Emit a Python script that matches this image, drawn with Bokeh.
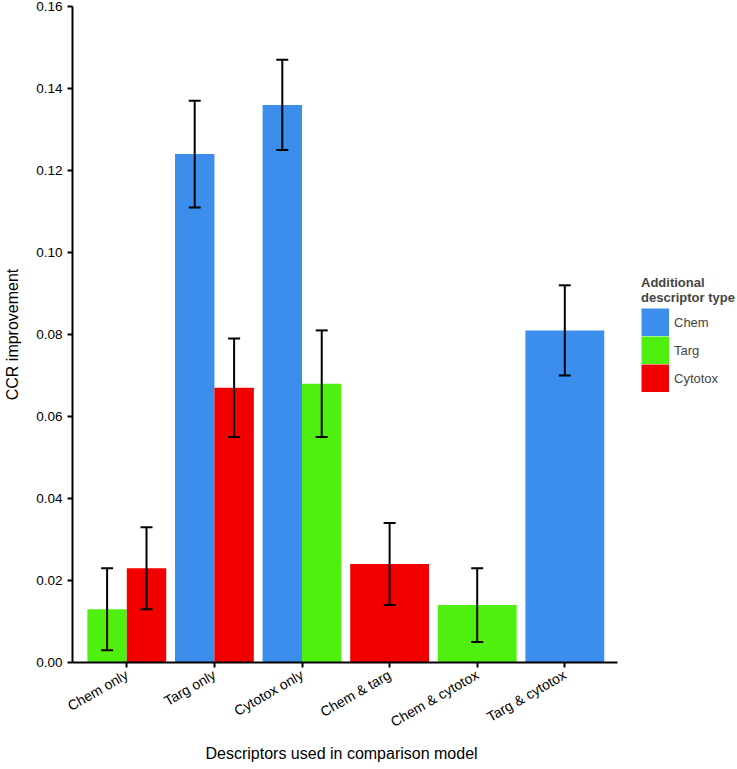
import math
from bokeh.plotting import figure
from bokeh.models import (ColumnDataSource, Legend, LegendItem, Whisker, TeeHead,
                          FixedTicker, Range1d, PrintfTickFormatter, Title)
from bokeh.embed import file_html
from bokeh.resources import INLINE

categories = ["Chem only", "Targ only", "Cytotox only", "Chem & targ", "Chem & cytotox", "Targ & cytotox"]
types = ["Chem", "Targ", "Cytotox"]
chem = [None, 0.124, 0.136, None, None, 0.081]
targ = [0.013, None, 0.068, None, 0.014, None]
cytotox = [0.023, 0.067, None, 0.024, None, None]
chem_err = [None, 0.013, 0.011, None, None, 0.011]
targ_err = [0.010, None, 0.013, None, 0.009, None]
cytotox_err = [0.010, 0.012, None, 0.010, None, None]
y_ticks = [0.00, 0.02, 0.04, 0.06, 0.08, 0.10, 0.12, 0.14, 0.16]
x_title = "Descriptors used in comparison model"
y_title = "CCR improvement"
legend_title = "Additional\ndescriptor type"

colors = {"Chem": "#3B8EEB", "Targ": "#4FEF10", "Cytotox": "#F20000"}
series = {"Chem": (chem, chem_err), "Targ": (targ, targ_err), "Cytotox": (cytotox, cytotox_err)}

FONT = "Liberation Sans"
X0, X1 = -0.62, 5.6          # extent of the x axis line
W, H = 735, 767
LEFT = 72
PX_PER_CAT = 87.6
x_end = X0 + (W - LEFT) / PX_PER_CAT   # frame extends to the right edge (room for legend)

p = figure(width=W, height=H, output_backend="svg", toolbar_location=None,
           x_range=Range1d(X0, x_end), y_range=Range1d(0, 0.16),
           min_border_left=LEFT, min_border_top=6, min_border_right=0, min_border_bottom=105)
p.outline_line_color = None
p.xgrid.grid_line_color = None
p.ygrid.grid_line_color = None
p.background_fill_color = "white"

# dodge positions
present = [[t for t in types if series[t][0][i] is not None] for i in range(len(categories))]
total_w = 0.9
for t in types:
    vals, errs = series[t]
    xs, tops, lo, hi, ws = [], [], [], [], []
    for i, v in enumerate(vals):
        if v is None:
            continue
        n = len(present[i])
        k = present[i].index(t)
        w = total_w / n
        xs.append(i - total_w / 2 + w * (k + 0.5))
        ws.append(w)
        tops.append(v)
        lo.append(v - errs[i])
        hi.append(v + errs[i])
    src = ColumnDataSource(dict(x=xs, top=tops, w=ws, lower=lo, upper=hi))
    p.vbar(x="x", top="top", width="w", bottom=0, source=src,
           fill_color=colors[t], line_color=None)
    wh = Whisker(base="x", upper="upper", lower="lower", source=src,
                 line_color="black", line_width=2, level="overlay",
                 upper_head=TeeHead(size=12, line_color="black", line_width=2),
                 lower_head=TeeHead(size=12, line_color="black", line_width=2))
    p.add_layout(wh)

# legend swatches: thick butt-capped lines (no visible data) fill the whole key box
nan = float("nan")
key_renderers = {t: p.line(x=[nan, nan], y=[nan, nan], line_color=colors[t],
                           line_width=28, line_cap="butt")
                 for t in types}

# axes
p.xaxis.ticker = FixedTicker(ticks=list(range(len(categories))))
p.xaxis.major_label_overrides = {i: c for i, c in enumerate(categories)}
p.xaxis.major_label_orientation = math.pi / 6
p.xaxis.bounds = (X0, X1)
p.yaxis.ticker = FixedTicker(ticks=y_ticks)
p.yaxis.formatter = PrintfTickFormatter(format="%.2f")
for ax in (p.xaxis, p.yaxis):
    ax.axis_line_color = "black"
    ax.axis_line_width = 2
    ax.major_tick_line_color = "black"
    ax.major_tick_line_width = 2
    ax.major_tick_out = 5
    ax.major_tick_in = 0
    ax.minor_tick_line_color = None
    ax.major_label_text_font = FONT
    ax.major_label_text_font_size = "14px"
    ax.major_label_text_color = "black"
    ax.axis_label_text_font = FONT
    ax.axis_label_text_font_size = "16px"
    ax.axis_label_text_font_style = "normal"
    ax.axis_label_text_color = "black"
p.yaxis.major_label_text_font_size = "13.5px"
p.xaxis.major_label_standoff = 6
p.yaxis.major_label_standoff = 5
p.yaxis.axis_label = y_title
p.yaxis.axis_label_standoff = 12

xt = Title(text=x_title, align="left", offset=133, standoff=6,
           text_font=FONT, text_font_size="16px", text_font_style="normal",
           text_color="black")
p.add_layout(xt, "below")

legend = Legend(items=[LegendItem(label=t, renderers=[key_renderers[t]]) for t in types],
                title=legend_title, location=(569, 270),
                glyph_width=28, glyph_height=28, spacing=0, label_standoff=5,
                padding=0, margin=0, border_line_color=None, background_fill_alpha=0,
                label_text_font=FONT, label_text_font_size="13px",
                title_text_font=FONT, title_text_font_size="13px",
                title_text_font_style="bold", title_standoff=3)
p.add_layout(legend)

open("out.html", "w").write(file_html(p, INLINE))
